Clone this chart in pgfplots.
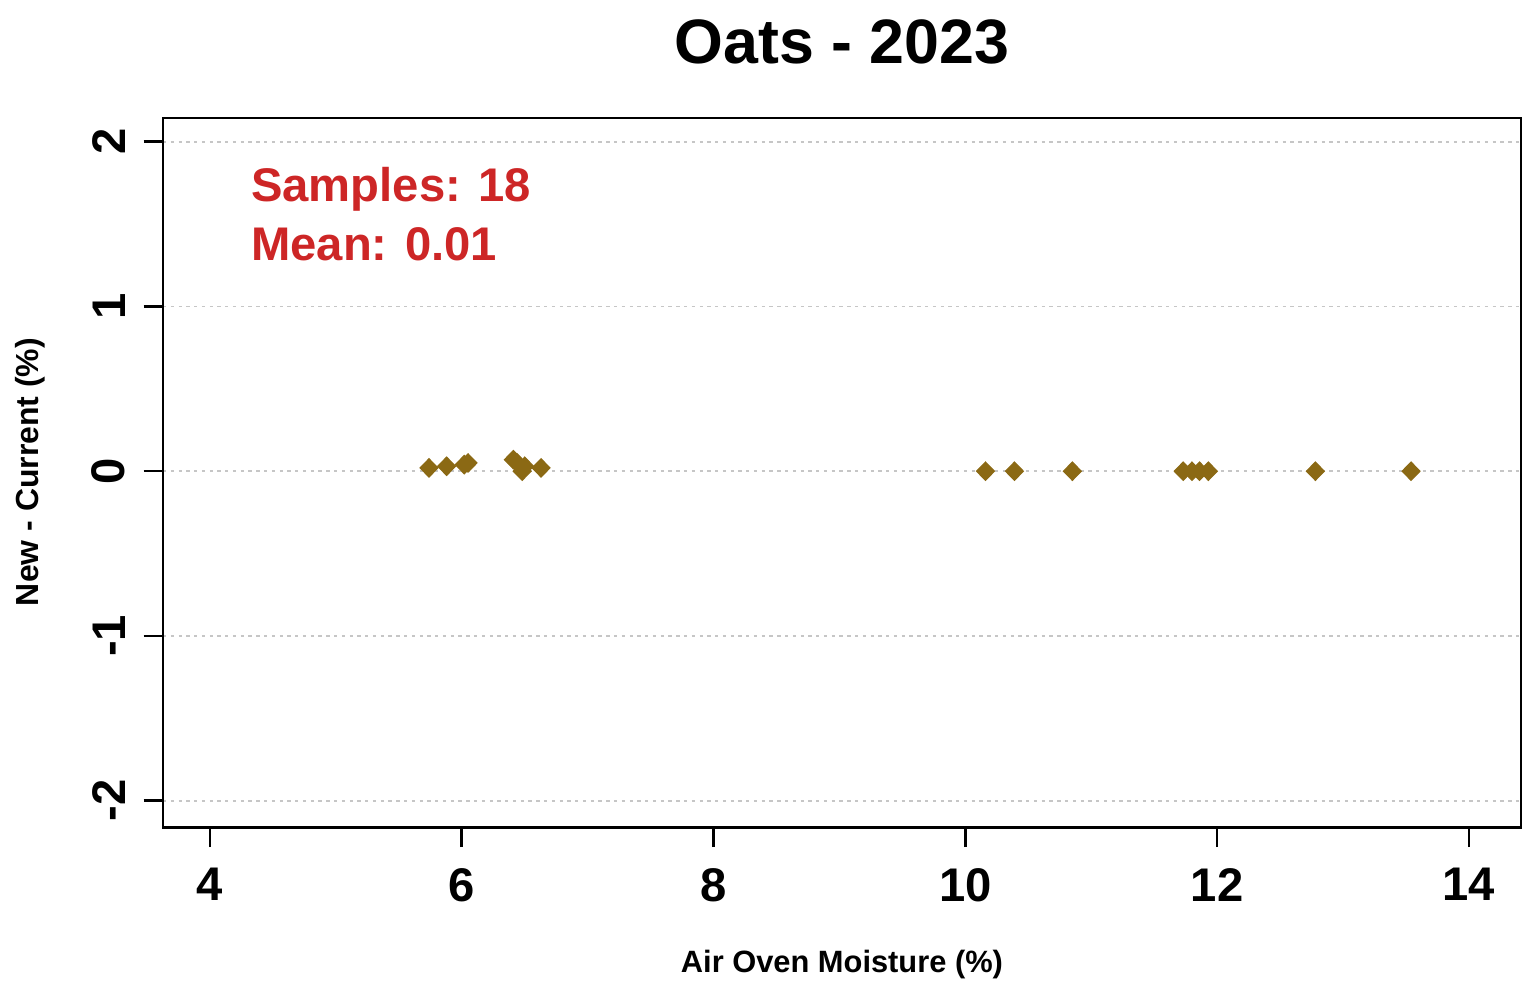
\documentclass[border=0pt]{standalone}
\usepackage{pgfplots}
\pgfplotsset{compat=1.18}
\usepackage{fontspec}
\setmainfont{Liberation Sans}
\definecolor{ptcol}{RGB}{139,105,20}
\definecolor{txtred}{RGB}{205,38,38}

\begin{document}
\begin{tikzpicture}
\begin{axis}[
    scale only axis,
    width=489pt, height=255.6pt,
    xmin=3.627, xmax=14.413,
    ymin=-2.164, ymax=2.145,
    xtick={4,6,...,14},
    ytick={-2,-1,0,1,2},
    axis line style={black, line width=0.9pt},
    tick style={black, line width=0.9pt},
    tick align=outside,
    major tick length=7pt,
    xtick pos=bottom, ytick pos=left,
    ymajorgrids,
    grid style={gray!45, dash pattern=on 1.2pt off 1.6pt, line width=0.6pt},
    /pgf/number format/assume math mode=true,
    ticklabel style={font=\fontsize{17}{19}\selectfont\bfseries},
    xticklabel style={yshift=-4pt},
    yticklabel style={rotate=90, anchor=south, xshift=0pt, yshift=3pt},
    clip=false,
]
\addplot[only marks, mark=diamond*, mark size=3.3pt, color=ptcol,
    mark options={xscale=1.3, fill=ptcol}] coordinates {
    (5.74,0.02) (5.88,0.03) (6.02,0.04) (6.05,0.05)
    (6.41,0.07) (6.44,0.05) (6.48,0.00) (6.50,0.03) (6.63,0.02)
    (10.16,0) (10.39,0) (10.85,0)
    (11.73,0) (11.80,0) (11.86,0) (11.93,0)
    (12.78,0) (13.54,0)
};
\node[anchor=west, text=txtred, font=\fontsize{17}{19}\selectfont\bfseries]
    at (axis cs:4.25,1.71) {Samples: 18};
\node[anchor=west, text=txtred, font=\fontsize{17}{19}\selectfont\bfseries]
    at (axis cs:4.25,1.376) {Mean: 0.01};
\node[font=\fontsize{22.6}{25}\selectfont\bfseries]
    at (rel axis cs:0.5,1.107) {Oats - 2023};
\node[font=\fontsize{11.1}{13}\selectfont\bfseries]
    at (rel axis cs:0.5,-0.193) {Air Oven Moisture (\%)};
\node[font=\fontsize{11.5}{13}\selectfont\bfseries, rotate=90]
    at (rel axis cs:-0.098,0.501) {New - Current (\%)};
\coordinate (bl) at (rel axis cs:-0.120,-0.2197);
\coordinate (tr) at (rel axis cs:1.0059,1.166);
\end{axis}
\pgfresetboundingbox
\path[use as bounding box] (bl) rectangle (tr);
\end{tikzpicture}
\end{document}
